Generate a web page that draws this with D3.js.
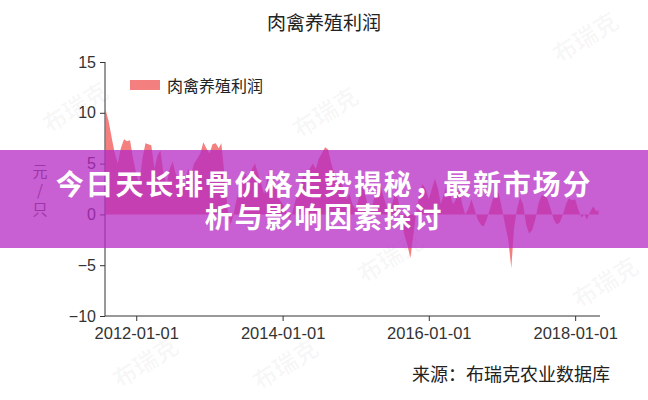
<!DOCTYPE html>
<html><head><meta charset="utf-8">
<script src="https://cdn.jsdelivr.net/npm/d3@7"></script>
<style>
html,body{margin:0;padding:0;background:#fff;}
svg{display:block;}
</style>
</head><body>
<svg id="chart" width="648" height="400"></svg>
<script>
const title = "肉禽养殖利润";
const seriesName = "肉禽养殖利润";
const yLabel = "元/只";
const source = "来源：布瑞克农业数据库";
const bannerLines = ["今日天长排骨价格走势揭秘，最新市场分", "析与影响因素探讨"];
const xTickLabels = ["2012-01-01", "2014-01-01", "2016-01-01", "2018-01-01"];
const yTicks = [-10, -5, 0, 5, 10, 15];
const watermark = "布瑞克";

const dates = [
 "2011-08-01","2011-08-16","2011-09-01","2011-09-16","2011-10-01","2011-10-16","2011-11-01","2011-11-16","2011-12-01","2011-12-16",
 "2012-01-01","2012-01-16","2012-02-01","2012-02-16","2012-03-01","2012-03-16","2012-04-01","2012-04-16","2012-05-01","2012-05-16","2012-06-01","2012-06-16",
 "2012-07-01","2012-07-16","2012-08-01","2012-08-16","2012-09-01","2012-09-16","2012-10-01","2012-10-16","2012-11-01","2012-11-16","2012-12-01","2012-12-16",
 "2013-01-01","2013-01-16","2013-02-01","2013-02-16","2013-03-01","2013-03-16","2013-04-01","2013-04-16","2013-05-01","2013-05-16","2013-06-01","2013-06-16",
 "2013-07-01","2013-07-16","2013-08-01","2013-08-16","2013-09-01","2013-09-16","2013-10-01","2013-10-16","2013-11-01","2013-11-16","2013-12-01","2013-12-16",
 "2014-01-01","2014-01-16","2014-02-01","2014-02-16","2014-03-01","2014-03-16","2014-04-01","2014-04-16","2014-05-01","2014-05-16","2014-06-01","2014-06-16",
 "2014-07-01","2014-07-16","2014-08-01","2014-08-16","2014-09-01","2014-09-16","2014-10-01","2014-10-16","2014-11-01","2014-11-16","2014-12-01","2014-12-16",
 "2015-01-01","2015-01-16","2015-02-01","2015-02-16","2015-03-01","2015-03-16","2015-04-01","2015-04-16","2015-05-01","2015-05-16","2015-06-01","2015-06-16",
 "2015-07-01","2015-07-16","2015-08-01","2015-08-16","2015-09-01","2015-09-16","2015-10-01","2015-10-16","2015-11-01","2015-11-16","2015-12-01","2015-12-16",
 "2016-01-01","2016-01-16","2016-02-01","2016-02-16","2016-03-01","2016-03-16","2016-04-01","2016-04-16","2016-05-01","2016-05-16","2016-06-01","2016-06-16",
 "2016-07-01","2016-07-16","2016-08-01","2016-08-16","2016-09-01","2016-09-16","2016-10-01","2016-10-16","2016-11-01","2016-11-16","2016-12-01","2016-12-16",
 "2017-01-01","2017-01-16","2017-02-01","2017-02-16","2017-03-01","2017-03-16","2017-04-01","2017-04-16","2017-05-01","2017-05-16","2017-06-01","2017-06-16",
 "2017-07-01","2017-07-16","2017-08-01","2017-08-16","2017-09-01","2017-09-16","2017-10-01","2017-10-16","2017-11-01","2017-11-16","2017-12-01","2017-12-16",
 "2018-01-01","2018-01-16","2018-02-01","2018-02-16","2018-03-01","2018-03-16","2018-04-01","2018-04-16","2018-04-28"
];
const profit = [
 10.3, 9.2, 7.5, 6.0, 5.0, 6.5, 7.4, 7.2, 7.3, 5.5,
 4.0, 3.0, 5.5, 7.0, 6.9, 6.8, 4.5, 5.8, 6.3, 4.0, 3.0, 4.5,
 5.2, 4.0, 3.5, 2.5, 3.0, 4.5, 4.0, 5.0, 5.5, 6.0, 7.1, 6.5,
 6.0, 6.9, 7.0, 6.5, 7.0, 4.0, 0.5, -1.0, 0.0, 1.5, 2.5, 3.5,
 4.0, 3.0, 4.5, 5.0, 4.0, 3.0, 2.0, 3.5, 4.5, 3.5, 2.5, 1.5,
 1.0, 0.5, -0.5, 0.0, 1.0, 2.0, 3.0, 4.0, 3.5, 4.5, 5.0, 4.5,
 5.5, 6.0, 6.6, 6.4, 5.0, 4.0, 3.0, 3.5, 2.5, 1.5, 2.0, 1.0,
 0.5, 1.5, 3.0, 2.0, 1.0, 0.0, 1.5, 2.5, 3.0, 2.0, 1.0, 0.0,
 1.0, 2.0, 1.5, -0.5, -2.0, -3.0, -4.3, -2.0, 0.5, 2.0, 3.0, 2.5,
 1.5, 2.5, 3.5, 2.5, 1.0, 2.0, 3.0, 2.0, 1.0, 1.5, 2.5, 1.0,
 0.0, 0.5, 1.5, 0.5, -0.5, -1.0, -1.2, -0.5, 0.5, 1.5, 2.5, 2.0,
 0.5, -1.0, -2.5, -5.3, -1.5, 0.5, 1.7, 1.0, -1.0, -1.9, -1.5, -0.5,
 1.0, 1.8, 2.0, 1.5, 0.5, -0.5, -1.0, -0.8, 0.0, 1.0, 1.6, 1.4,
 1.5, 0.5, -0.3, 0.0, -0.5, 0.2, 0.8, 0.3, 0.4
];

const parse = d3.timeParse("%Y-%m-%d");
const data = dates.map((d, i) => ({date: parse(d), value: profit[i]}));

const svg = d3.select("#chart");
const W = 648, H = 400;

const x = d3.scaleTime()
  .domain([parse("2011-07-29"), parse("2018-05-05")])
  .range([105, 600]);
const y = d3.scaleLinear().domain([-10, 15]).range([316, 62]);

const tickFont = "'Liberation Sans', Arial, sans-serif";
const cjkFont = "'Noto Sans CJK SC', 'Noto Sans', sans-serif";

// faint watermarks
const wmPos = [[590,45],[80,115],[330,120],[395,265],[150,370],[290,372],[610,290]];
svg.append("g").selectAll("text").data(wmPos).join("text")
  .attr("transform", d => `translate(${d[0]},${d[1]}) rotate(-32)`)
  .attr("text-anchor", "middle")
  .attr("font-family", cjkFont).attr("font-size", 24).attr("font-weight", "bold")
  .attr("fill", "#000").attr("fill-opacity", 0.035)
  .text(watermark);

// title
svg.append("text").attr("x", 324).attr("y", 30).attr("text-anchor", "middle")
  .attr("font-family", cjkFont).attr("font-size", 19).attr("fill", "#222").text(title);

// area
const area = d3.area().x(d => x(d.date)).y0(y(0)).y1(d => y(d.value));
svg.append("path").datum(data).attr("d", area).attr("fill", "#f47f7f");

// y axis
const yAxis = svg.append("g").attr("transform", "translate(105,0)")
  .call(d3.axisLeft(y).tickValues(yTicks).tickSize(5).tickPadding(4).tickFormat(d3.format("d")));
yAxis.select(".domain").attr("stroke", "#333").attr("d", `M0,${y(15)}V${y(-10)}`);
yAxis.selectAll(".tick line").attr("stroke", "#333");
yAxis.selectAll("text").attr("font-family", tickFont).attr("font-size", 16).attr("fill", "#333");

// x axis
const xTickDates = xTickLabels.map(parse);
const xAxis = svg.append("g").attr("transform", `translate(0,${y(-10)})`)
  .call(d3.axisBottom(x).tickValues(xTickDates).tickSize(5).tickPadding(6)
    .tickFormat((d, i) => xTickLabels[i]));
xAxis.select(".domain").attr("stroke", "#333").attr("d", `M105,0H600`);
xAxis.selectAll(".tick line").attr("stroke", "#333");
xAxis.selectAll("text").attr("font-family", tickFont).attr("font-size", 16.5).attr("fill", "#333");

// y label vertical
const yl = svg.append("text").attr("font-family", cjkFont).attr("font-size", 15).attr("fill", "#555")
  .attr("text-anchor", "middle");
Array.from(yLabel).forEach((ch, i) => {
  yl.append("tspan").attr("x", 40).attr("y", 177 + i * 19).text(ch);
});

// legend
svg.append("rect").attr("x", 130).attr("y", 80).attr("width", 30).attr("height", 10).attr("fill", "#f47f7f");
svg.append("text").attr("x", 167).attr("y", 92).attr("font-family", cjkFont).attr("font-size", 16)
  .attr("fill", "#222").text(seriesName);

// source
svg.append("text").attr("x", 610).attr("y", 381).attr("text-anchor", "end")
  .attr("font-family", cjkFont).attr("font-size", 18).attr("fill", "#222").text(source);

// banner
svg.append("rect").attr("x", 0).attr("y", 150).attr("width", W).attr("height", 98)
  .attr("fill", "rgb(182,42,195)").attr("fill-opacity", 0.75);
svg.append("g").selectAll("text").data(bannerLines).join("text")
  .attr("x", 324).attr("y", (d, i) => 195 + i * 33)
  .attr("text-anchor", "middle")
  .attr("font-family", cjkFont).attr("font-size", 28).attr("font-weight", "bold")
  .attr("letter-spacing", 1.8)
  .attr("fill", "#fff").text(d => d);
</script>
</body></html>
